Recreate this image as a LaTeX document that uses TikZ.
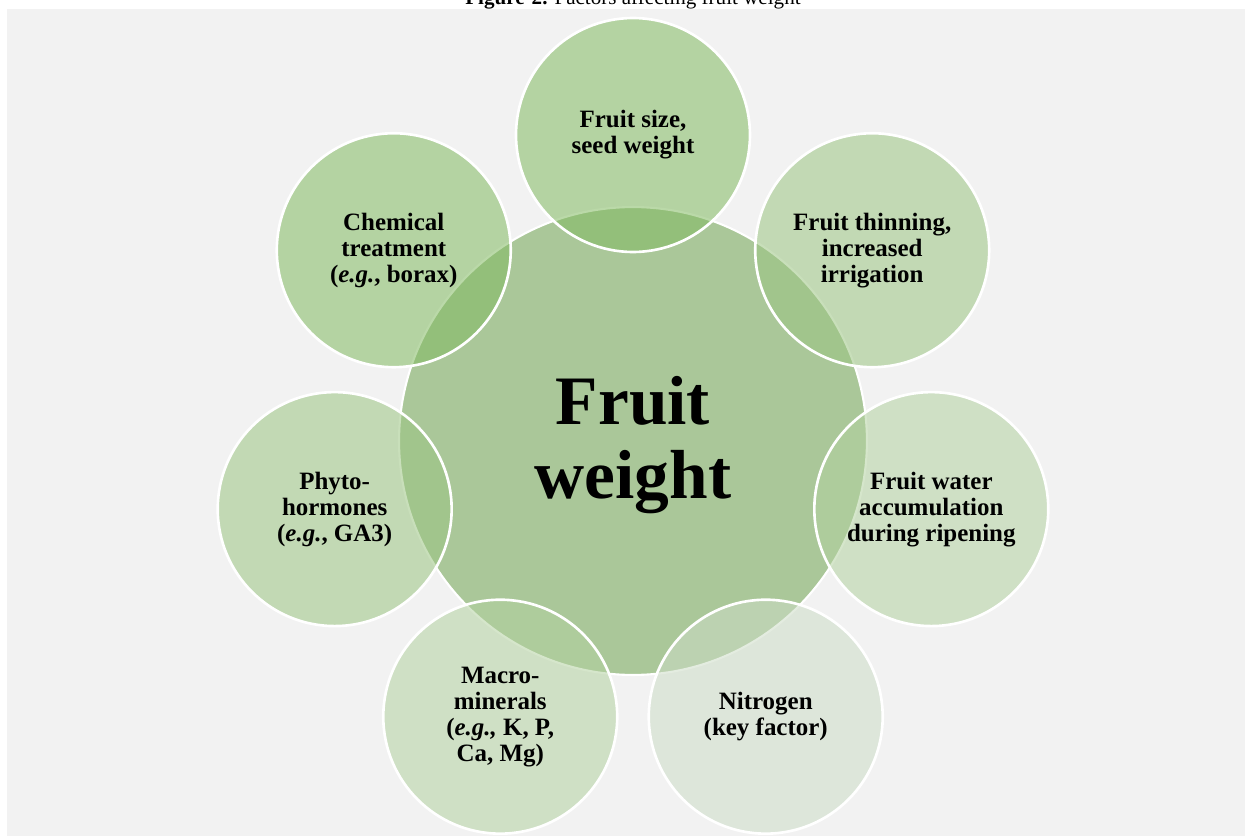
\documentclass[tikz,border=0pt]{standalone}
\usepackage{fontspec}
\setmainfont{Liberation Serif}
\usepackage{tikz}
\usetikzlibrary{shapes.geometric}
\usepackage{xcolor}
\definecolor{panelGray}{RGB}{242, 242, 242}
\definecolor{hubGreen}{RGB}{170, 199, 153}
\definecolor{leafDeep}{RGB}{129, 185, 96}
\definecolor{leafMid}{RGB}{155, 196, 129}
\definecolor{leafSoft}{RGB}{179, 209, 159}
\definecolor{leafPale}{RGB}{205, 220, 198}

\begin{document}
\begin{tikzpicture}[x=0.02cm, y=-0.02cm]
    % Define styles
    \tikzstyle{hub} = [circle, draw=white, line width=1.2pt, fill=hubGreen, inner sep=0pt, minimum size=9.36cm, align=center, font=\fontsize{39.5}{42.5}\selectfont\bfseries]
    \tikzstyle{factor} = [circle, draw=white, line width=1.5pt, fill opacity=0.54, text opacity=1, inner sep=0pt, minimum size=4.68cm, align=center, font=\fontsize{14.2}{14.8}\selectfont\bfseries]

    % Page and caption
    \useasboundingbox (-633,-441) rectangle (612,395);
    \node[anchor=base, font=\fontsize{12}{14}\selectfont] (caption) at (0,-436) {\textbf{Figure-2.} Factors affecting fruit weight};
    \fill[panelGray] (-626,-432) rectangle (612,395);

    % Nodes
    \node[hub] (weight) at (0,0) {};
    \node[font=\fontsize{39.5}{42.5}\selectfont\bfseries, align=center] (weightlabel) at (0,4) {Fruit\\ weight};
    \node[factor, fill=leafDeep] (size) at (-90:306) {Fruit size,\\ seed weight};
    \node[factor, fill=leafMid] (thinning) at (-38.57:306) {Fruit thinning,\\ increased\\ irrigation};
    \node[factor, fill=leafSoft] (water) at (12.86:306) {Fruit water\\ accumulation\\ during ripening};
    \node[factor, fill=leafPale] (nitrogen) at (64.29:306) {Nitrogen\\ (key factor)};
    \node[factor, fill=leafSoft] (minerals) at (115.71:306) {Macro-\\ minerals\\ (\textit{e.g.,} K, P,\\ Ca, Mg)};
    \node[factor, fill=leafMid] (hormones) at (167.14:306) {Phyto-\\ hormones\\ (\textit{e.g.}, GA3)};
    \node[factor, fill=leafDeep] (chemical) at (218.57:306) {Chemical\\ treatment\\ (\textit{e.g.}, borax)};
\end{tikzpicture}
\end{document}
